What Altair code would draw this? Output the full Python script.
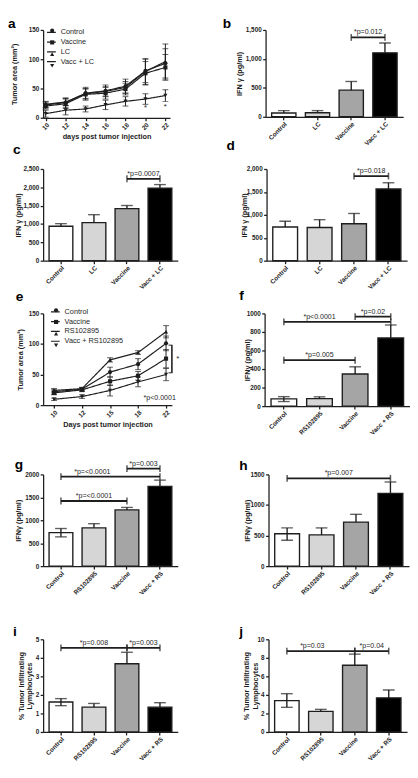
import altair as alt
import pandas as pd

FONT = "Liberation Sans"
INK = "#1e1e1e"
FILLS = ["#ffffff", "#d6d6d6", "#a5a5a5", "#000000"]
SHAPES = ["circle", "square", "triangle-up", "triangle-down"]
PI, PO = 0.28, 0.18

# ---------------- data ----------------
# panel a : tumour growth (LC experiment)
a_days = ["10", "12", "14", "16", "18", "20", "22"]
a_groups = ["Control", "Vaccine", "LC", "Vacc + LC"]
a_control = [22, 26, 42, 46, 54, 80, 93]
a_control_sem = [5, 8, 10, 10, 12, 20, 25]
a_vaccine = [20, 24, 40, 42, 49, 76, 86]
a_vaccine_sem = [5, 8, 10, 10, 10, 20, 22]
a_lc = [23, 27, 41, 45, 52, 79, 96]
a_lc_sem = [5, 6, 8, 8, 10, 22, 30]
a_vacc_lc = [7, 13, 15, 22, 28, 32, 38]
a_vacc_lc_sem = [6, 8, 5, 8, 8, 9, 10]
a_star_days = ["20", "22"]
a_star_y = [17, 18.5]

# panel e : tumour growth (RS102895 experiment)
e_days = ["10", "12", "15", "18", "22"]
e_groups = ["Control", "Vaccine", "RS102895", "Vacc + RS102895"]
e_control = [22, 26, 54, 67, 101]
e_control_sem = [4, 3, 8, 9, 12]
e_vaccine = [20, 25, 39, 48, 76]
e_vaccine_sem = [3, 3, 7, 7, 15]
e_rs = [24, 27, 74, 86, 120]
e_rs_sem = [3, 2, 3.5, 3, 10]
e_vacc_rs = [9.5, 14, 24, 38, 50]
e_vacc_rs_sem = [2, 3, 9, 8, 10]
e_bracket_low, e_bracket_high, e_bracket_mid = 53, 98, 76
e_p_text, e_p_y = "*p<0.0001", 9

# bar panels
lc_cats = ["Control", "LC", "Vaccine", "Vacc + LC"]
rs_cats = ["Control", "RS102895", "Vaccine", "Vacc + RS"]

b_mean = [65, 70, 460, 1105]
b_up = [42, 37, 150, 170]
b_down = [0, 0, 0, 0]
c_mean = [940, 1040, 1420, 1975]
c_up = [70, 215, 85, 100]
c_down = [0, 0, 0, 0]
d_mean = [735, 725, 805, 1565]
d_up = [125, 170, 225, 135]
d_down = [0, 0, 0, 0]
f_mean = [78, 80, 346, 735]
f_up = [24, 20, 78, 140]
f_down = [29, 0, 0, 0]
g_mean = [730, 835, 1225, 1740]
g_up = [90, 90, 55, 135]
g_down = [92, 0, 0, 0]
h_mean = [530, 510, 720, 1190]
h_up = [95, 115, 127, 186]
h_down = [106, 0, 0, 0]
i_mean = [1.62, 1.34, 3.68, 1.34]
i_up = [0.18, 0.2, 0.62, 0.24]
i_down = [0.2, 0, 0, 0]
j_mean = [3.38, 2.22, 7.2, 3.68]
j_up = [0.75, 0.22, 1.2, 0.85]
j_down = [0.72, 0, 0, 0]

# significance brackets: (from, to, level, label, label centre as category index)
b_sig = [("Vaccine", "Vacc + LC", 1371, "*p=0.012", 2.5)]
c_sig = [("Vaccine", "Vacc + LC", 2234, "*p=0.0007", 2.5)]
d_sig = [("Vaccine", "Vacc + LC", 1846, "*p=0.018", 2.5)]
f_sig = [("Control", "Vaccine", 495, "*p=0.005", 1.0),
         ("Control", "Vacc + RS", 908, "*p<0.0001", 1.0),
         ("Vaccine", "Vacc + RS", 965, "*p=0.02", 2.5)]
g_sig = [("Control", "Vaccine", 1420, "*p=<0.0001", 1.0),
         ("Control", "Vacc + RS", 1951, "*p=<0.0001", 0.95),
         ("Vaccine", "Vacc + RS", 2127, "*p=0.003", 2.5)]
h_sig = [("Control", "Vacc + RS", 1436, "*p=0.007", 1.5)]
i_sig = [("Control", "Vaccine", 4.54, "*p=0.008", 1.0),
         ("Vaccine", "Vacc + RS", 4.54, "*p=0.003", 2.5)]
j_sig = [("Control", "Vaccine", 8.73, "*p=0.03", 0.75),
         ("Vaccine", "Vacc + RS", 8.73, "*p=0.04", 2.5)]


# ---------------- helpers ----------------
def y_enc(field, ymax, ticks, fmt, title, title_x):
    return alt.Y(field, type="quantitative",
                 scale=alt.Scale(domain=[0, ymax], nice=False, zero=True),
                 axis=alt.Axis(values=ticks, format=fmt, title=title, titleX=title_x,
                               titleBaseline="middle", titleAngle=270, titleLineHeight=9))


def letter_layer(ch, lx, ly):
    return alt.Chart(pd.DataFrame({"t": [ch]})).mark_text(
        align="left", baseline="alphabetic", fontSize=14, fontWeight="bold",
        font=FONT, color="#000").encode(x=alt.value(lx), y=alt.value(ly), text="t:N")


def bar_panel(letter, cats, mean, up, down, ymax, ticks, fmt, ytitle, sig, geo):
    w, h, title_x, lx, ly = geo
    n = len(cats)
    step = w / (n - PI + 2 * PO)
    df = pd.DataFrame({"cat": cats, "v": mean,
                       "hi": [m + u for m, u in zip(mean, up)],
                       "lo": [m - d for m, d in zip(mean, down)],
                       "has_lo": [d > 0 for d in down],
                       "fillc": FILLS[:n]})
    xs = alt.Scale(domain=cats, paddingInner=PI, paddingOuter=PO)
    xax = alt.Axis(title=None, labelAngle=-45, labelPadding=1)

    def X(f):
        return alt.X(f, type="nominal", scale=xs, axis=xax)

    def Y(f):
        return y_enc(f, ymax, ticks, fmt, ytitle, title_x)

    base = alt.Chart(df)
    layers = [
        base.mark_bar(stroke=INK, strokeWidth=1.4).encode(
            x=X("cat"), y=Y("v"), fill=alt.Fill("fillc:N", scale=None)),
        base.mark_rule(color=INK, strokeWidth=1.4).encode(x=X("cat"), y=Y("v"), y2=alt.Y2("hi")),
        base.mark_tick(color=INK, thickness=1.4, size=12).encode(x=X("cat"), y=Y("hi")),
    ]
    lo_df = df[df["has_lo"]]
    if len(lo_df):
        lo = alt.Chart(lo_df)
        layers += [
            lo.mark_rule(color=INK, strokeWidth=1.4).encode(x=X("cat"), y=Y("lo"), y2=alt.Y2("v")),
            lo.mark_tick(color=INK, thickness=1.4, size=12).encode(x=X("cat"), y=Y("lo")),
        ]
    rows = []
    for k, (c1, c2, yv, txt, tpos) in enumerate(sig):
        rows += [{"id": k, "c": c1, "yv": yv}, {"id": k, "c": c2, "yv": yv}]
    bdf = pd.DataFrame(rows)
    layers += [
        alt.Chart(bdf).mark_line(color=INK, strokeWidth=1.8).encode(x=X("c"), y=Y("yv"), detail="id:N"),
        alt.Chart(bdf).mark_tick(orient="vertical", size=7, thickness=1.6, color=INK).encode(x=X("c"), y=Y("yv")),
    ]
    for (c1, c2, yv, txt, tpos) in sig:
        k0 = int(tpos)
        tdf = pd.DataFrame({"c": [cats[k0]], "yv": [yv], "t": [txt]})
        layers.append(alt.Chart(tdf).mark_text(
            dx=(tpos - k0) * step, dy=-3, baseline="alphabetic", fontSize=7.2,
            font=FONT, color=INK).encode(x=X("c"), y=Y("yv"), text="t:N"))
    layers.append(letter_layer(letter, lx, ly))
    return alt.layer(*layers).properties(width=w, height=h)


def line_panel(letter, days, groups, means, sems, ymax, ticks, xtitle, ytitle, geo,
               pad, align, leg, extra):
    w, h, title_x, lx, ly = geo
    rows = []
    for gi, (g, m, s) in enumerate(zip(groups, means, sems)):
        for d, v, e in zip(days, m, s):
            rows.append({"day": d, "grp": g, "sid": "s%d" % gi, "v": v, "lo": v - e, "hi": v + e})
    df = pd.DataFrame(rows)
    sids = ["s%d" % i for i in range(len(groups))]
    xs = alt.Scale(type="point", domain=days, padding=pad, align=align)
    xax = alt.Axis(title=xtitle, labelAngle=-45, titlePadding=2, labelPadding=1)

    def X(f="day"):
        return alt.X(f, type="ordinal", scale=xs, axis=xax)

    def Y(f):
        return y_enc(f, ymax, ticks, "d", ytitle, title_x)

    lgx, lgy, rp_line, rp_shape, dy_shape = leg
    base = alt.Chart(df)
    layers = [
        base.mark_line(color=INK, strokeWidth=1.2).encode(
            x=X(), y=Y("v"),
            strokeDash=alt.StrokeDash("grp:N", scale=alt.Scale(domain=groups, range=[[1, 0]] * len(groups)),
                                      legend=alt.Legend(orient="none", legendX=lgx, legendY=lgy, title=None,
                                                        symbolType="stroke", symbolSize=81,
                                                        symbolStrokeWidth=1.2, symbolStrokeColor=INK,
                                                        labelFont=FONT, labelFontSize=7.5,
                                                        labelFontWeight="normal", labelColor=INK,
                                                        labelOffset=4, rowPadding=rp_line, padding=0))),
        base.mark_rule(color=INK, strokeWidth=1).encode(x=X(), y=Y("lo"), y2=alt.Y2("hi")),
        base.mark_tick(color=INK, thickness=1, size=6).encode(x=X(), y=Y("hi")),
        base.mark_tick(color=INK, thickness=1, size=6).encode(x=X(), y=Y("lo")),
        base.mark_point(filled=True, size=18, color=INK, opacity=1).encode(
            x=X(), y=Y("v"),
            shape=alt.Shape("sid:N", scale=alt.Scale(domain=sids, range=SHAPES),
                            legend=alt.Legend(orient="none", legendX=lgx + 2.5, legendY=lgy + dy_shape,
                                              title=None, symbolSize=18, symbolFillColor=INK,
                                              symbolStrokeColor=INK, symbolStrokeWidth=0,
                                              labelExpr="''", labelFontSize=7.5,
                                              rowPadding=rp_shape, padding=0))),
    ]
    layers += extra(X, Y)
    layers.append(letter_layer(letter, lx, ly))
    return alt.layer(*layers).properties(width=w, height=h)


def a_extra(X, Y):
    sdf = pd.DataFrame({"day": a_star_days, "y": a_star_y})
    return [alt.Chart(sdf).mark_text(text="*", fontSize=8, font=FONT, color=INK, baseline="middle")
            .encode(x=X(), y=Y("y"))]


def e_extra(X, Y):
    last = e_days[-1]
    bdf = pd.DataFrame({"day": [last], "y1": [e_bracket_low], "y2": [e_bracket_high],
                        "ym": [e_bracket_mid], "yt": [e_p_y], "t": [e_p_text]})
    cdf = pd.DataFrame({"day": [last, last], "y": [e_bracket_low, e_bracket_high]})
    return [
        alt.Chart(bdf).mark_rule(xOffset=6, color=INK, strokeWidth=1.6).encode(x=X(), y=Y("y1"), y2=alt.Y2("y2")),
        alt.Chart(cdf).mark_tick(xOffset=4.5, size=4, thickness=1.4, color=INK).encode(x=X(), y=Y("y")),
        alt.Chart(bdf).mark_text(text="*", dx=12, fontSize=8, font=FONT, color=INK, baseline="middle")
        .encode(x=X(), y=Y("ym")),
        alt.Chart(bdf).mark_text(align="right", dx=10, baseline="alphabetic", fontSize=7.2, font=FONT, color=INK)
        .encode(x=X(), y=Y("yt"), text="t:N"),
    ]


IFN = "IFN γ (pg/ml)"
IFN2 = "IFNγ (pg/ml)"
TIL = ["% Tumor Infiltrating", "Lymphocytes"]

pa = line_panel("a", a_days, a_groups, [a_control, a_vaccine, a_lc, a_vacc_lc],
                [a_control_sem, a_vaccine_sem, a_lc_sem, a_vacc_lc_sem],
                150, [0, 50, 100, 150], "days post tumor injection", "Tumor area (mm²)",
                (130, 90, -29, -36, -2), 0.18, 0.36, (3, -3, 1, 3, 0), a_extra)
pb = bar_panel("b", lc_cats, b_mean, b_up, b_down, 1500, [0, 500, 1000, 1500], ",d", IFN, b_sig,
               (141, 89, -27, -44, -2))
pc = bar_panel("c", lc_cats, c_mean, c_up, c_down, 2500, [0, 500, 1000, 1500, 2000, 2500], ",d", IFN, c_sig,
               (138, 94, -25, -31, -15))
pd_ = bar_panel("d", lc_cats, d_mean, d_up, d_down, 2000, [0, 500, 1000, 1500, 2000], ",d", IFN, d_sig,
                (144, 94, -23, -41, -19))
pe = line_panel("e", e_days, e_groups, [e_control, e_vaccine, e_rs, e_vacc_rs],
                [e_control_sem, e_vaccine_sem, e_rs_sem, e_vacc_rs_sem],
                150, [0, 50, 100, 150], "Days post tumor injection", "Tumor area (mm²)",
                (132, 94, -23.5, -28, -13), 0.3, 0.65, (7, -7, 1, 3, 0), e_extra)
pf = bar_panel("f", rs_cats, f_mean, f_up, f_down, 1000, [0, 200, 400, 600, 800, 1000], "d", IFN2, f_sig,
               (149, 95, -17, -26, -14))
pg = bar_panel("g", rs_cats, g_mean, g_up, g_down, 2000, [0, 500, 1000, 1500, 2000], "d", IFN2, g_sig,
               (138, 94, -25, -29, -6))
ph = bar_panel("h", rs_cats, h_mean, h_up, h_down, 1500, [0, 500, 1000, 1500], "d", IFN2, h_sig,
               (144, 94, -21, -30, -5))
pi_ = bar_panel("i", rs_cats, i_mean, i_up, i_down, 5, [0, 1, 2, 3, 4, 5], "d", TIL, i_sig,
                (138, 95, -22.5, -31, -3))
pj = bar_panel("j", rs_cats, j_mean, j_up, j_down, 10, [0, 2, 4, 6, 8, 10], "d", TIL, j_sig,
               (142, 95, -22, -30, -3))


def indep(c):
    return c.resolve_scale(strokeDash="independent", shape="independent", y="independent", x="independent")


r1 = indep(alt.HConcatChart(hconcat=[pa, pb], spacing=54))
r2 = indep(alt.HConcatChart(hconcat=[pc, pd_], spacing=50))
r3 = indep(alt.HConcatChart(hconcat=[pe, pf], spacing=61))
r4 = indep(alt.HConcatChart(hconcat=[pg, ph], spacing=63))
r5 = indep(alt.HConcatChart(hconcat=[pi_, pj], spacing=63))

v = indep(alt.VConcatChart(vconcat=[r1, r2], spacing=-7.5))
v = indep(alt.VConcatChart(vconcat=[v, r3], spacing=-1.5))
v = indep(alt.VConcatChart(vconcat=[v, r4], spacing=21.5))
chart = indep(alt.VConcatChart(vconcat=[v, r5], spacing=29.5))

chart = chart.properties(padding=0).configure_view(stroke=None).configure_axis(
    labelFont=FONT, titleFont=FONT, labelFontWeight="bold", titleFontWeight="bold",
    labelColor=INK, titleColor=INK, domainColor=INK, tickColor=INK,
    domainWidth=1.3, tickWidth=1.3, tickSize=3, labelFontSize=6.5, titleFontSize=7.5,
    grid=False, labelPadding=1.5
).configure_text(font=FONT)

chart.save("out.html", embed_options={"renderer": "svg", "actions": False})
